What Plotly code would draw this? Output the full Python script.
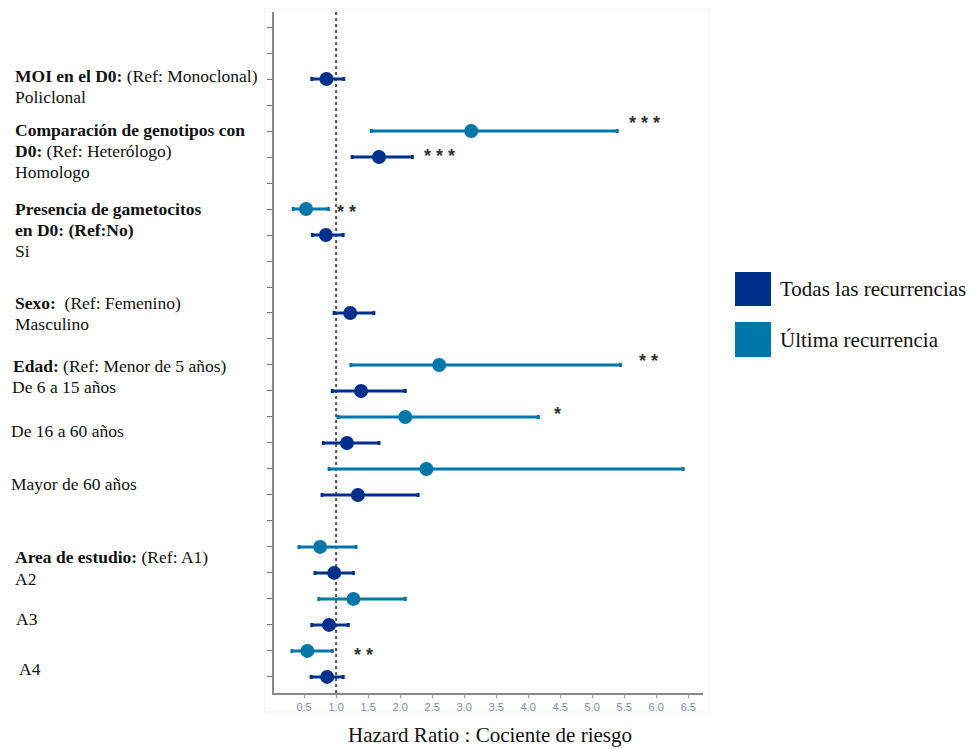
import plotly.graph_objects as go

# ---------------- data ----------------
# row positions (1 = bottom row of the axis, 26 = top tick)
todas_pos = [24, 21, 18, 15, 12, 10, 8, 5, 3, 1]
todas_hr = [0.85, 1.67, 0.84, 1.22, 1.39, 1.17, 1.34, 0.97, 0.89, 0.86]
todas_lo = [0.62, 1.25, 0.63, 0.97, 0.94, 0.80, 0.78, 0.67, 0.62, 0.61]
todas_hi = [1.12, 2.19, 1.11, 1.59, 2.08, 1.67, 2.28, 1.27, 1.19, 1.11]

ultima_pos = [22, 19, 13, 11, 9, 6, 4, 2]
ultima_hr = [3.11, 0.53, 2.61, 2.08, 2.41, 0.75, 1.27, 0.55]
ultima_lo = [1.55, 0.33, 1.23, 1.03, 0.89, 0.42, 0.73, 0.31]
ultima_hi = [5.39, 0.88, 5.44, 4.16, 6.42, 1.31, 2.08, 0.94]

# significance stars: (x value, row position, text)
stars_x = [5.81, 2.61, 1.17, 5.88, 4.45, 1.42]
stars_y = [22.42, 21.15, 19.0, 13.27, 11.23, 1.96]
stars_txt = ["* * *", "* * *", "* *", "* *", "*", "* *"]

x_ticks = [0.5, 1.0, 1.5, 2.0, 2.5, 3.0, 3.5, 4.0, 4.5, 5.0, 5.5, 6.0, 6.5]
x_tick_labels = ["0.5", "1.0", "1.5", "2.0", "2.5", "3.0", "3.5", "4.0", "4.5", "5.0", "5.5", "6.0", "6.5"]
y_ticks = list(range(1, 27))

series_names = ["Todas las recurrencias", "Última recurrencia"]
col_todas = "#00308C"
col_ultima = "#0077A8"

# left-hand labels: (text, x px, y px)
left_labels = [
    ("<b>MOI en el D0:</b> (Ref: Monoclonal)", 13, 76),
    ("Policlonal", 13, 97),
    ("<b>Comparación de genotipos con</b>", 13, 130),
    ("<b>D0:</b> (Ref: Heterólogo)", 13, 151),
    ("Homologo", 13, 172),
    ("<b>Presencia de gametocitos</b>", 13, 209),
    ("<b>en D0: (Ref:No)</b>", 13, 230),
    ("Si", 13, 251),
    ("<b>Sexo:</b>\u00a0 (Ref: Femenino)", 13, 303),
    ("Masculino", 13, 324),
    ("<b>Edad:</b> (Ref: Menor de 5 años)", 11, 366),
    ("De 6 a 15 años", 10, 387),
    ("De 16 a 60 años", 9, 431),
    ("Mayor de 60 años", 9, 484),
    ("<b>Area de estudio:</b> (Ref: A1)", 13, 557),
    ("A2", 13, 579),
    ("A3", 14, 619),
    ("A4", 17, 669),
]

# ---------------- layout geometry ----------------
# the page body has an 8px margin, so the figure starts at (8, 8)
OFF = 8
W, H = 975, 749
PX0, PX1, PY0, PY1 = 274, 703, 12, 693   # plot area in page pixels
PW, PH = PX1 - PX0, PY1 - PY0


def px_x(px):
    return (px - PX0) / PW


def px_y(py):
    return (PY1 - py) / PH


SERIF = "Liberation Serif, Times New Roman, serif"
SANS = "Liberation Sans, Arial, sans-serif"

fig = go.Figure()

fig.add_trace(go.Scatter(
    x=todas_hr, y=todas_pos, mode="markers", name=series_names[0],
    marker=dict(color=col_todas, size=14, symbol="circle"),
    error_x=dict(type="data", symmetric=False,
                 array=[h - v for h, v in zip(todas_hi, todas_hr)],
                 arrayminus=[v - l for v, l in zip(todas_hr, todas_lo)],
                 color=col_todas, thickness=3, width=2),
    showlegend=False, cliponaxis=False,
))
fig.add_trace(go.Scatter(
    x=ultima_hr, y=ultima_pos, mode="markers", name=series_names[1],
    marker=dict(color=col_ultima, size=14, symbol="circle"),
    error_x=dict(type="data", symmetric=False,
                 array=[h - v for h, v in zip(ultima_hi, ultima_hr)],
                 arrayminus=[v - l for v, l in zip(ultima_hr, ultima_lo)],
                 color=col_ultima, thickness=3, width=2),
    showlegend=False, cliponaxis=False,
))

annotations = []
for sx, sy, st in zip(stars_x, stars_y, stars_txt):
    annotations.append(dict(x=sx, y=sy, xref="x", yref="y", text="<b>" + st + "</b>", showarrow=False,
                            xanchor="center", yanchor="middle", yshift=-3,
                            font=dict(family=SANS, size=18, color="#333333")))

for txt, lx, ly in left_labels:
    annotations.append(dict(x=px_x(lx), y=px_y(ly), xref="paper", yref="paper", text=txt,
                            showarrow=False, xanchor="left", yanchor="middle",
                            font=dict(family=SERIF, size=17.5, color="#111111")))

# legend (drawn manually for large swatches)
legend_items = [(series_names[0], col_todas, 272, 306), (series_names[1], col_ultima, 322, 357)]
shapes = []
for name, col, y0, y1 in legend_items:
    shapes.append(dict(type="rect", xref="paper", yref="paper",
                       x0=px_x(735), x1=px_x(771), y0=px_y(y1), y1=px_y(y0),
                       fillcolor=col, line=dict(width=0)))
    annotations.append(dict(x=px_x(778), y=px_y((y0 + y1) / 2), xref="paper", yref="paper",
                            text=name, showarrow=False, xanchor="left", yanchor="middle",
                            font=dict(family=SERIF, size=21, color="#111111")))

# x-axis title
annotations.append(dict(x=px_x(490), y=px_y(735), xref="paper", yref="paper",
                        text="Hazard Ratio : Cociente de riesgo", showarrow=False,
                        xanchor="center", yanchor="middle", borderpad=0,
                        font=dict(family=SERIF, size=21, color="#111111")))

# reference line at HR = 1
shapes.append(dict(type="line", xref="x", yref="paper", x0=1, x1=1, y0=0, y1=1,
                   line=dict(color="#555555", width=2, dash="3px,3px"), layer="below"))
# faint panel border
shapes.append(dict(type="rect", xref="paper", yref="paper",
                   x0=px_x(265), x1=px_x(709), y0=px_y(712), y1=px_y(8),
                   line=dict(color="#f0f0f0", width=1), layer="below"))

fig.update_layout(
    width=W - OFF, height=H - OFF,
    margin=dict(l=PX0 - OFF, r=W - PX1, t=PY0 - OFF, b=H - PY1, pad=0),
    paper_bgcolor="white", plot_bgcolor="white",
    annotations=annotations, shapes=shapes,
    showlegend=False,
    xaxis=dict(range=[0.03, 6.73], tickvals=x_ticks, ticktext=x_tick_labels,
               showgrid=False, zeroline=False, showline=True, linecolor="#888888",
               linewidth=1.5, ticks="outside", ticklen=3, tickcolor="#999999",
               tickfont=dict(family=SANS, size=11, color="#7f8c9f")),
    yaxis=dict(range=[0.38, 26.58], tickvals=y_ticks, showticklabels=False,
               showgrid=False, zeroline=False, showline=True, linecolor="#888888",
               linewidth=1.5, ticks="outside", ticklen=5, tickcolor="#777777"),
)

fig.write_html("out.html")
